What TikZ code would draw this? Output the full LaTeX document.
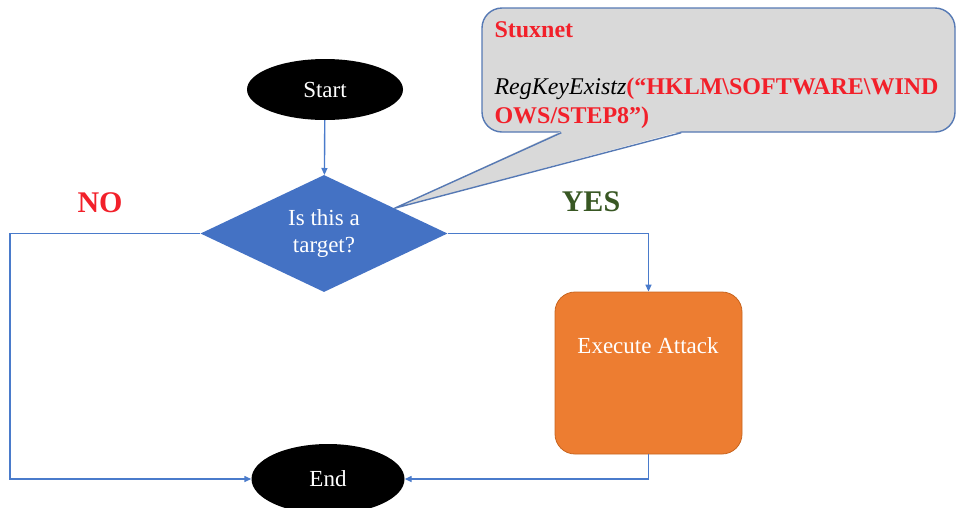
\documentclass[tikz,border=0pt]{standalone}
\usepackage{fontspec}
\setmainfont{Liberation Serif}
\usepackage{tikz}
\usetikzlibrary{arrows.meta}
\usetikzlibrary{calc}
\usetikzlibrary{shapes.geometric}
\definecolor{flow-blue}{HTML}{4472C4}
\definecolor{wire-blue}{HTML}{4A7BCB}
\definecolor{note-gray}{HTML}{D9D9D9}
\definecolor{note-edge}{HTML}{5679B4}
\definecolor{attack-orange}{HTML}{ED7D31}
\definecolor{attack-edge}{HTML}{C8651F}
\definecolor{label-red}{HTML}{F2202A}
\definecolor{label-green}{HTML}{385723}

\begin{document}
\begin{tikzpicture}[x=1pt,y=-1pt,
		terminal/.style={ellipse,fill=black,text=white,inner sep=0pt,font=\fontsize{23}{26}\selectfont},
		wire/.style={draw=wire-blue,line width=1.4pt},
		tip/.style={-{Triangle[length=7pt,width=6pt]}}]
		
		    \useasboundingbox (0,0) rectangle (957,507);
		
		    %--- NODES ------------------------------
		
		    % Start and End
		    \node [terminal,minimum width=156,minimum height=61] (start) at (325,89.5) {Start};
		    \node [terminal,minimum width=153,minimum height=70] (end) at (328,479) {End};
		    
		    % Decision
		    \node [diamond,fill=flow-blue,text=white,inner sep=0pt,shape aspect=2.1,
		           minimum width=247,minimum height=117,align=center,
		           font=\fontsize{23}{27}\selectfont] (target) at (324,233.5) {Is this a\\target?};
		    
		    % Attack box
		    \node [draw=attack-edge,line width=0.8pt,fill=attack-orange,rounded corners=20,
		           minimum width=187,minimum height=162] (attack) at (648.5,373) {};
		    \node [text=white,font=\fontsize{23}{26}\selectfont] (attacklabel) at (648,346) {Execute Attack};
		    
		    % Labels
		    \node [text=label-red,font=\fontsize{30}{32}\bfseries\selectfont] (no) at (100,203) {NO};
		    \node [text=label-green,font=\fontsize{30}{32}\bfseries\selectfont] (yes) at (591,202) {YES};
		    
		    %--- CALLOUT ----------------------------
		    
		    \node [draw=note-edge,line width=1.4pt,fill=note-gray,rounded corners=20,
		           minimum width=473,minimum height=124] (note) at (718.5,70) {};
		    \node [anchor=north west,inner sep=0pt,text width=449,align=left,
		           font=\fontsize{24}{29}\selectfont] (notetext) at ($(note.north west)+(13,14.5)$)
		           {\textcolor{label-red}{\bfseries Stuxnet}\\[28pt]
		            \textit{RegKeyExistz}\textcolor{label-red}{\bfseries (“HKLM\textbackslash SOFTWARE\textbackslash WIND\\OWS/STEP8”)}};
		    
		    % Tail coordinates
		    \coordinate (baseL) at ($(note.south west)+(80,0)$);
		    \coordinate (baseR) at ($(note.south west)+(200,0)$);
		    \coordinate (pointer) at ($(target.north)!0.57!(target.east)$);
		    
		    \fill [note-gray] ([yshift=1.5pt]baseL) -- (pointer) -- ([yshift=1.5pt]baseR) -- cycle;
		    \draw [note-edge,line width=1.4pt,line join=round] (baseL) -- (pointer) -- (baseR);
		    
		    %--- CONNECTORS -------------------------
		    
		    \coordinate (nocorner) at (10,233.5);
		    
		    \draw [wire,tip] (start) -- (target);
		    \draw [wire,tip] (target.west) -- (nocorner) |- (end.west);
		    \draw [wire,tip] (target.east) -| (attack.north);
		    \draw [wire,tip] (attack.south) |- (end.east);
		    
		\end{tikzpicture}
\end{document}
